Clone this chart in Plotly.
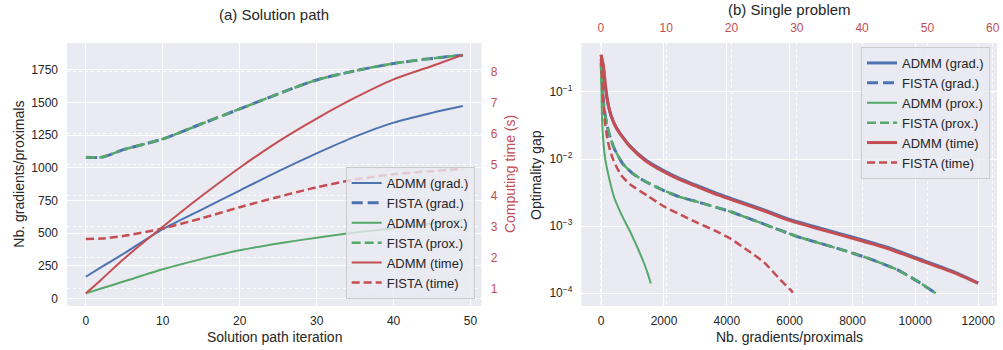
import plotly.graph_objects as go

# ---------------- Panel (a): solution path ----------------
iters = [0, 2, 5, 10, 15, 20, 25, 30, 35, 40, 45, 49]
admm_grad_a = [165, 238, 345, 530, 677, 825, 972, 1110, 1238, 1345, 1420, 1472]
fista_grad_a = [1080, 1080, 1140, 1220, 1335, 1450, 1565, 1672, 1742, 1798, 1837, 1862]
admm_prox_a = [38, 75, 130, 222, 300, 368, 420, 464, 503, 536, 572, 600]
fista_prox_a = [1080, 1080, 1140, 1220, 1335, 1450, 1565, 1672, 1742, 1798, 1837, 1862]
admm_time_a = [0.86, 1.30, 1.98, 3.0, 3.98, 4.9, 5.74, 6.48, 7.15, 7.74, 8.17, 8.53]
fista_time_a = [2.61, 2.62, 2.71, 2.95, 3.27, 3.63, 3.96, 4.27, 4.52, 4.69, 4.79, 4.86]

# ---------------- Panel (b): single problem ----------------
admm_grad_n = [0, 63, 127, 203, 308, 467, 679, 889, 1419, 1949, 2476, 3006, 3705, 4127,
               5187, 5927, 6984, 8044, 9102, 10159, 11219, 12000]
admm_grad_gap = [0.356, 0.25, 0.127, 0.0716, 0.0453, 0.0304, 0.0216, 0.0162, 0.0097, 0.00689,
                 0.00518, 0.00411, 0.00305, 0.0026, 0.00175, 0.00129, 0.00093, 0.00068,
                 0.000485, 0.000321, 0.00021, 0.000142]

fista_n = [0, 22, 63, 127, 235, 413, 679, 997, 1419, 1949, 2476, 3070, 4127, 5187, 6244,
           7302, 8362, 9419, 10159, 10650]
fista_gap = [0.268, 0.16, 0.0805, 0.0454, 0.0256, 0.0145, 0.00865, 0.00613, 0.0046, 0.00347,
             0.00275, 0.0023, 0.00164, 0.00107, 0.0007, 0.0005, 0.00035, 0.000225, 0.000142,
             0.0001]

admm_prox_n = [0, 8, 22, 63, 127, 254, 413, 600, 730, 890, 1048, 1200, 1365, 1480, 1580]
admm_prox_gap = [0.3, 0.12, 0.05, 0.0204, 0.0103, 0.0052, 0.0027, 0.00166, 0.00124, 0.00089,
                 0.00062, 0.00043, 0.00028, 0.0002, 0.00014]

admm_time_t = [0, 0.40, 0.70, 1.07, 1.57, 2.34, 3.36, 4.37, 6.92, 9.47, 12.0, 14.55, 17.9,
               19.94, 25.04, 28.6, 33.7, 38.8, 43.9, 48.95, 54.05, 57.75]
admm_time_gap = [0.36, 0.24, 0.122, 0.069, 0.0437, 0.0293, 0.0208, 0.0156, 0.0093, 0.0066,
                 0.00497, 0.00394, 0.00292, 0.00249, 0.00168, 0.00124, 0.00089, 0.00065,
                 0.000465, 0.000308, 0.000203, 0.000142]

fista_time_t = [0, 0.2, 0.55, 1.07, 1.83, 3.1, 4.5, 7.18, 9.71, 12.26, 14.8, 17.34, 19.9,
                22.44, 24.98, 27.5, 29.05, 29.4]
fista_time_gap = [0.316, 0.141, 0.0407, 0.0182, 0.01, 0.00575, 0.00417, 0.00282, 0.00195,
                  0.00147, 0.00112, 0.00087, 0.000646, 0.000437, 0.000288, 0.000158,
                  0.000112, 0.000102]

labels = ["ADMM (grad.)", "FISTA (grad.)", "ADMM (prox.)", "FISTA (prox.)", "ADMM (time)", "FISTA (time)"]

BLUE, GREEN, RED = "#4C72B0", "#55A868", "#C44E52"
TXT = "#262626"
FONT = "Liberation Sans, Arial, sans-serif"

styles = [
    dict(color=BLUE, width=2),
    dict(color=BLUE, width=3, dash="11px,5px"),
    dict(color=GREEN, width=2),
    dict(color=GREEN, width=2.5, dash="9px,4px"),
    dict(color=RED, width=2),
    dict(color=RED, width=2.5, dash="8px,4px"),
]

fig = go.Figure()

a_series = [(iters, admm_grad_a, "x", "y"), (iters, fista_grad_a, "x", "y"),
            (iters, admm_prox_a, "x", "y"), (iters, fista_prox_a, "x", "y"),
            (iters, admm_time_a, "x", "y2"), (iters, fista_time_a, "x", "y2")]
for lab, st, (xs, ys, xa, ya) in zip(labels, styles, a_series):
    fig.add_trace(go.Scatter(x=xs, y=ys, xaxis=xa, yaxis=ya, mode="lines", name=lab,
                             line=dict(**st, shape="spline", smoothing=0.8), legend="legend"))

b_series = [(admm_grad_n, admm_grad_gap, "x2", "y3"), (fista_n, fista_gap, "x2", "y3"),
            (admm_prox_n, admm_prox_gap, "x2", "y3"), (fista_n, fista_gap, "x2", "y3"),
            (admm_time_t, admm_time_gap, "x3", "y3"), (fista_time_t, fista_time_gap, "x3", "y3")]
b_styles = [dict(color=BLUE, width=3), styles[1], styles[2], styles[3],
            dict(color=RED, width=3), styles[5]]
for lab, st, (xs, ys, xa, ya) in zip(labels, b_styles, b_series):
    fig.add_trace(go.Scatter(x=xs, y=ys, xaxis=xa, yaxis=ya, mode="lines", name=lab,
                             line=dict(**st, shape="spline", smoothing=0.6), legend="legend2"))

W, H = 1003, 350
ML, MR, MT, MB = 67, 3, 43, 44
PW, PH = W - ML - MR, H - MT - MB


def px_x(p):
    return (p - ML) / PW


def px_y(p):
    return (H - MB - p) / PH


tickfont = dict(family=FONT, size=12, color=TXT)
redfont = dict(family=FONT, size=12, color=RED)
common = dict(showline=False, zeroline=False, gridcolor="white", gridwidth=1.2, ticks="")

legend_common = dict(bgcolor="rgba(234,234,242,0.8)", bordercolor="#CCCCCC", borderwidth=1,
                     font=dict(family=FONT, size=13, color=TXT), itemwidth=30,
                     tracegroupgap=0)

fig.update_layout(
    width=W, height=H, margin=dict(l=ML, r=MR, t=MT, b=MB),
    paper_bgcolor="white", plot_bgcolor="#EAEAF2",
    font=dict(family=FONT, size=12, color=TXT),
    xaxis=dict(domain=[0, px_x(483)], anchor="y", range=[-2.45, 51.45],
               tickvals=[0, 10, 20, 30, 40, 50], tickfont=tickfont, ticklabelstandoff=6, **common),
    yaxis=dict(domain=[0, 1], anchor="x", range=[-59, 1955],
               tickvals=[0, 250, 500, 750, 1000, 1250, 1500, 1750], tickfont=tickfont,
               ticklabelstandoff=8, **common),
    yaxis2=dict(overlaying="y", anchor="x", side="right", range=[0.453, 8.91],
                tickvals=[1, 2, 3, 4, 5, 6, 7, 8], tickfont=redfont, griddash="dot",
                ticklabelstandoff=8, **{**common, "gridwidth": 1}),
    xaxis2=dict(domain=[px_x(583), 1], anchor="y3", range=[-630, 12600], tickformat="d",
                tickvals=[0, 2000, 4000, 6000, 8000, 10000, 12000], tickfont=tickfont,
                ticklabelstandoff=6, **common),
    yaxis3=dict(domain=[0, 1], anchor="x2", type="log", range=[-4.19, -0.27],
                tickvals=[1e-4, 1e-3, 1e-2, 1e-1],
                ticktext=["10<sup>\u22124</sup>", "10<sup>\u22123</sup>",
                          "10<sup>\u22122</sup>", "10<sup>\u22121</sup>"],
                tickfont=tickfont, ticklabelstandoff=8, **common),
    xaxis3=dict(overlaying="x2", anchor="y3", side="top", range=[-3.0, 60.66],
                tickvals=[0, 10, 20, 30, 40, 50, 60], tickfont=redfont, griddash="dot",
                ticklabelstandoff=8, **{**common, "gridwidth": 1}),
    legend=dict(x=px_x(476), y=px_y(299), xanchor="right", yanchor="bottom", **legend_common),
    legend2=dict(x=px_x(993), y=px_y(47), xanchor="right", yanchor="top", **legend_common),
    showlegend=True,
)

ann = [
    dict(text="(a) Solution path", x=px_x(275), y=px_y(14), size=15, color=TXT, angle=0),
    dict(text="(b) Single problem", x=px_x(791.5), y=px_y(10), size=15, color=TXT, angle=0),
    dict(text="Solution path iteration", x=px_x(275), y=px_y(337), size=14, color=TXT, angle=0),
    dict(text="Nb. gradients/proximals", x=px_x(791.5), y=px_y(337), size=14, color=TXT, angle=0),
    dict(text="Nb. gradients/proximals", x=px_x(18), y=0.5, size=14, color=TXT, angle=-90),
    dict(text="Computing time (s)", x=px_x(511), y=0.5, size=14, color=RED, angle=-90),
    dict(text="Optimality gap", x=px_x(537), y=0.5, size=14, color=TXT, angle=-90),
]
for a in ann:
    fig.add_annotation(text=a["text"], x=a["x"], y=a["y"], xref="paper", yref="paper",
                       xanchor="center", yanchor="middle", showarrow=False,
                       textangle=a["angle"],
                       font=dict(family=FONT, size=a["size"], color=a["color"]))

fig.write_html("out.html", config={"displayModeBar": False},
               post_script="document.body.style.margin='0';document.body.style.overflow='hidden';")
